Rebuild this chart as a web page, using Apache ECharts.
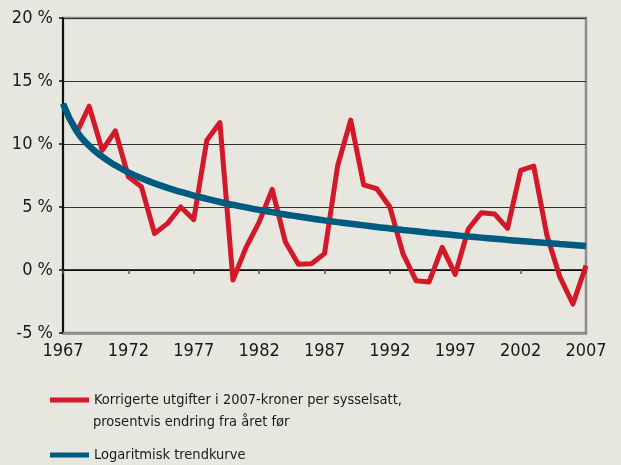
<!DOCTYPE html>
<html>
<head>
<meta charset="utf-8">
<script src="https://cdn.jsdelivr.net/npm/echarts@6/dist/echarts.min.js"></script>
<style>
  html, body { margin: 0; padding: 0; background: #e7e6df; }
  #chart { width: 621px; height: 465px; }
</style>
</head>
<body>
<div id="chart"></div>
<script>
// annual change in corrected spending, 1968-2007 (%)
var years = [1968, 1969, 1970, 1971, 1972, 1973, 1974, 1975, 1976, 1977,
  1978, 1979, 1980, 1981, 1982, 1983, 1984, 1985, 1986, 1987,
  1988, 1989, 1990, 1991, 1992, 1993, 1994, 1995, 1996, 1997,
  1998, 1999, 2000, 2001, 2002, 2003, 2004, 2005, 2006, 2007];
var change = [10.8, 13.0, 9.5, 11.05, 7.4, 6.6, 2.9, 3.7, 5.0, 4.0,
  10.3, 11.7, -0.8, 1.8, 3.8, 6.4, 2.25, 0.45, 0.5, 1.3,
  8.25, 11.9, 6.75, 6.45, 5.0, 1.3, -0.85, -0.95, 1.8, -0.35,
  3.25, 4.55, 4.45, 3.3, 7.9, 8.25, 2.8, -0.55, -2.7, 0.35];

// trend curve, 1967-2007
var trendYears = [1967, 1968, 1969, 1970, 1971, 1972, 1973, 1974, 1975, 1976,
  1977, 1978, 1979, 1980, 1981, 1982, 1983, 1984, 1985, 1986,
  1987, 1988, 1989, 1990, 1991, 1992, 1993, 1994, 1995, 1996,
  1997, 1998, 1999, 2000, 2001, 2002, 2003, 2004, 2005, 2006, 2007];
var trend = [13.2, 11.09, 9.86, 8.99, 8.31, 7.75, 7.28, 6.88, 6.52, 6.2,
  5.91, 5.65, 5.4, 5.18, 4.97, 4.77, 4.59, 4.41, 4.25, 4.09,
  3.94, 3.8, 3.67, 3.54, 3.41, 3.3, 3.18, 3.07, 2.96, 2.86,
  2.76, 2.66, 2.57, 2.48, 2.39, 2.31, 2.22, 2.14, 2.06, 1.99, 1.91];

var nameChange = "Korrigerte utgifter i 2007-kroner per sysselsatt,";
var nameChange2 = "prosentvis endring fra året før";
var nameTrend = "Logaritmisk trendkurve";

var font = '"Liberation Sans Narrow", "DejaVu Sans Condensed", Roboto, sans-serif';

function pairs(xs, ys) {
  var out = [];
  for (var i = 0; i < xs.length; i++) out.push([xs[i], ys[i]]);
  return out;
}

var chart = echarts.init(document.getElementById("chart"));
var option = {
  backgroundColor: "#e7e6df",
  animation: false,
  grid: {
    left: 63, right: 35, top: 18, bottom: 132,
    show: true, borderColor: "#8c8c8c", borderWidth: 2.5, backgroundColor: "transparent"
  },
  legend: [
    {
      data: [nameChange],
      left: 45, top: 385,
      icon: "rect", itemWidth: 39, itemHeight: 5,
      textStyle: { color: "#1a1a1a", fontSize: 14.5, fontFamily: font, lineHeight: 20 }
    },
    {
      data: [nameTrend],
      left: 45, top: 440,
      icon: "rect", itemWidth: 39, itemHeight: 5,
      textStyle: { color: "#1a1a1a", fontSize: 14.5, fontFamily: font, lineHeight: 20 }
    }
  ],
  graphic: [
    {
      type: "text", left: 93, top: 415,
      style: { text: nameChange2, fill: "#1a1a1a", font: "14.5px " + font }
    }
  ],
  xAxis: [
    {
      type: "value", min: 1967, max: 2007, interval: 5,
      axisLine: { onZero: false, lineStyle: { color: "#8c8c8c", width: 2.5 } },
      axisTick: { show: false },
      splitLine: { show: false },
      axisLabel: {
        color: "#1a1a1a", fontSize: 18, fontFamily: font, margin: 9,
        formatter: function (v) { return String(v); }
      }
    },
    {
      type: "value", min: 1967, max: 2007, interval: 5, position: "bottom",
      axisLine: { onZero: true, lineStyle: { color: "#000", width: 1.5 } },
      axisTick: { show: true, length: 4, lineStyle: { color: "#555", width: 1.5 } },
      splitLine: { show: false },
      axisLabel: { show: false }
    }
  ],
  yAxis: {
    type: "value", min: -5, max: 20, interval: 5,
    axisLine: { show: true, lineStyle: { color: "#111", width: 2 } },
    axisTick: { show: true, length: 4, lineStyle: { color: "#111", width: 1.5 } },
    splitLine: { lineStyle: { color: "#333", width: 1.2 } },
    axisLabel: {
      color: "#1a1a1a", fontSize: 18, fontFamily: font, margin: 10,
      formatter: function (v) { return v + " %"; }
    }
  },
  series: [
    {
      name: nameChange, type: "line", xAxisIndex: 0,
      data: pairs(years, change),
      symbol: "none", color: "#d3182a",
      lineStyle: { width: 5, color: "#d3182a", join: "round" }
    },
    {
      name: nameTrend, type: "line", xAxisIndex: 0,
      data: pairs(trendYears, trend),
      symbol: "none", smooth: true, color: "#005b80",
      lineStyle: { width: 6.5, color: "#005b80" }
    }
  ]
};
chart.setOption(option);
</script>
</body>
</html>
